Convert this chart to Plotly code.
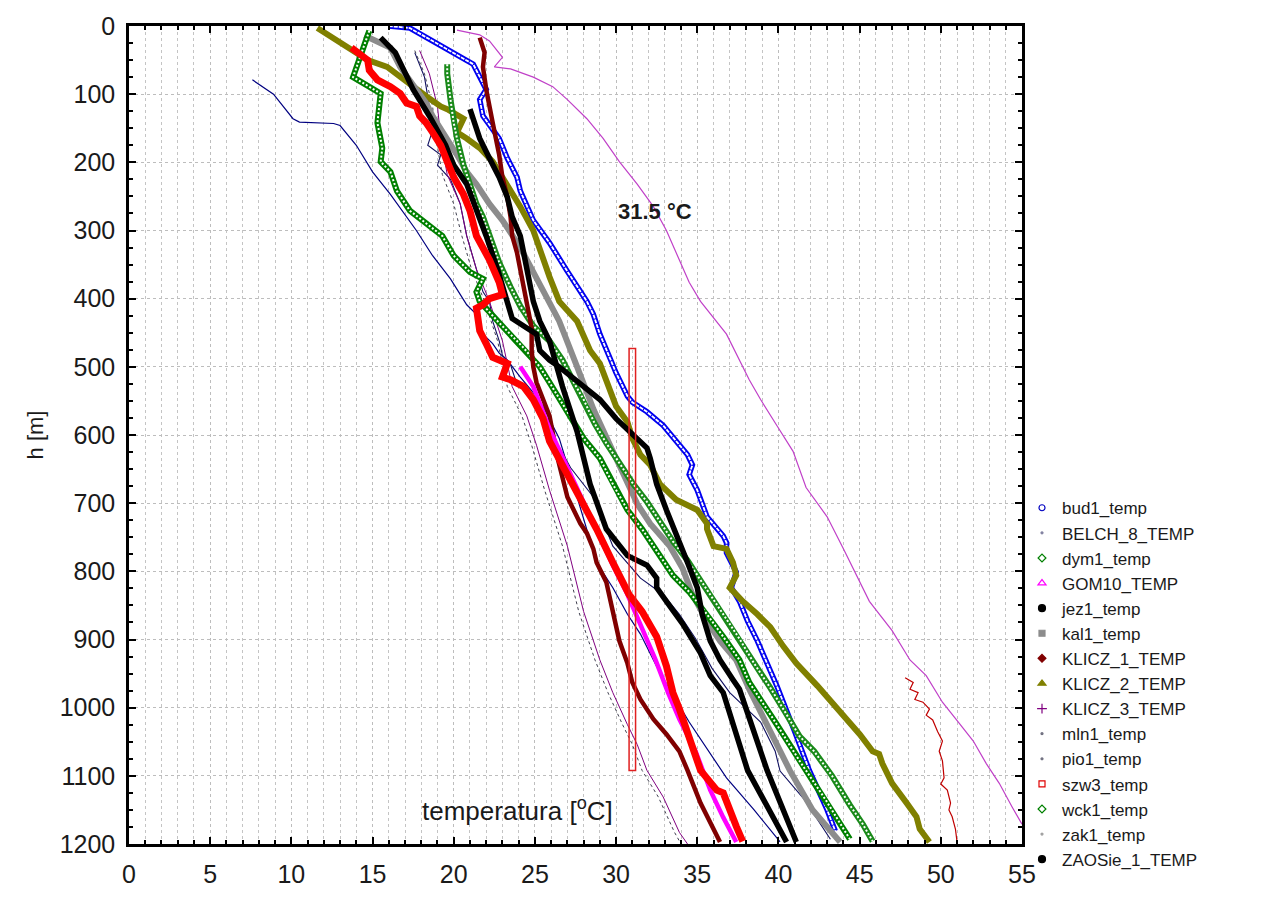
import plotly.graph_objects as go

# ---- temperature profiles: temperature [degC] against depth h [m] ----
bud1_t = [16.0, 17.3, 21.2, 22.0, 21.6, 21.8, 22.8, 23.3, 23.9, 24.1, 24.9, 25.9, 27.0, 28.2, 28.6, 29.0,
          29.6, 30.0, 30.7, 31.0, 31.9, 32.9, 34.4, 34.7, 34.5, 35.0, 35.6, 36.6, 36.8, 36.8, 37.4, 37.1,
          37.6, 38.1, 38.7, 39.3, 39.9, 41.0, 41.9, 43.0, 43.5]
bud1_h = [0, 3, 56, 93, 108, 132, 165, 194, 222, 242, 285, 318, 360, 404, 423, 452,
          486, 509, 543, 552, 566, 586, 629, 644, 658, 681, 720, 748, 758, 773, 801, 824,
          844, 873, 902, 935, 968, 1035, 1092, 1150, 1181]

belch8_t = [7.6, 8.9, 10.1, 10.5, 12.6, 13.0, 14.0, 15.0, 16.1, 17.1, 17.7, 18.7, 19.8, 20.8, 21.4, 21.8,
            22.4, 22.8, 23.3, 24.1, 24.9, 25.5, 26.5, 27.6, 28.8, 29.8, 30.7, 31.5, 32.7, 34.5, 36.8,
            38.5, 40.1]
belch8_h = [79, 100, 136, 141, 143, 146, 175, 214, 247, 280, 300, 337, 371, 409, 423, 452,
            466, 480, 490, 515, 538, 558, 605, 691, 787, 824, 863, 892, 949, 1021, 1103,
            1150, 1197]

dym1_t = [14.8, 13.8, 15.5, 15.3, 15.6, 15.5, 16.1, 16.5, 17.3, 18.3, 19.3, 20.0, 21.0, 21.8, 21.4, 21.6,
          22.7, 24.3, 25.3, 25.9, 27.0, 28.0, 29.0, 29.8, 30.7, 31.6, 32.7, 33.5, 34.5, 35.6, 36.6,
          37.6, 38.2, 39.8, 41.3, 42.9, 44.4]
dym1_h = [7, 75, 99, 142, 179, 199, 214, 242, 271, 290, 308, 337, 361, 371, 390, 404,
          433, 472, 500, 523, 566, 605, 634, 672, 710, 738, 777, 806, 830, 863, 896,
          930, 963, 1021, 1078, 1135, 1193]

gom10_t = [24.1, 24.9, 25.9, 27.0, 28.0, 29.0, 29.8, 30.7, 31.5, 32.4, 33.2, 33.9, 34.9, 35.8, 36.6, 37.4]
gom10_h = [500, 529, 591, 648, 698, 748, 791, 834, 877, 928, 978, 1017, 1064, 1121, 1161, 1197]

jez1_t = [15.5, 16.4, 17.5, 18.5, 19.5, 20.0, 20.8, 21.6, 22.0, 22.7, 23.3, 23.6, 24.5, 25.1, 25.3, 25.9,
          26.5, 28.0, 29.0, 30.0, 30.8, 31.9, 32.1, 32.5, 33.1, 33.7, 34.4, 35.0, 35.3, 35.8, 36.4,
          37.2, 37.6, 39.3, 41.1]
jez1_h = [17, 39, 93, 132, 175, 204, 232, 280, 308, 357, 404, 429, 443, 452, 476, 490,
          500, 529, 548, 576, 595, 619, 634, 672, 710, 748, 787, 824, 863, 902, 930,
          959, 973, 1092, 1197]

kal1_t = [14.5, 16.1, 16.7, 17.5, 18.3, 18.7, 19.6, 20.2, 20.8, 21.4, 22.2, 23.0, 24.1, 25.0, 25.9, 26.5,
          27.6, 28.6, 30.0, 31.3, 32.1, 33.3, 34.1, 34.7, 35.6, 36.4, 37.4, 38.2, 40.7, 42.1, 43.8]
kal1_h = [14, 32, 60, 85, 113, 132, 165, 189, 214, 232, 261, 285, 325, 364, 404, 433,
          500, 562, 634, 701, 730, 763, 796, 834, 873, 902, 930, 973, 1092, 1150, 1197]

klicz1_t = [21.6, 21.9, 21.8, 22.0, 22.4, 22.8, 23.0, 23.3, 23.5, 23.6, 23.9, 24.5, 24.8, 24.8, 24.9, 25.1,
            25.5, 25.9, 26.4, 27.0, 27.8, 28.2, 28.6, 28.8, 29.4, 29.8, 30.2, 30.7, 31.0, 31.5, 32.3,
            33.1, 33.9, 34.4, 35.2, 36.0, 36.4]
klicz1_h = [17, 39, 60, 93, 142, 189, 222, 251, 280, 308, 333, 404, 443, 476, 500, 523,
            548, 572, 634, 691, 730, 744, 767, 787, 816, 859, 902, 935, 963, 988, 1017,
            1039, 1064, 1092, 1140, 1178, 1197]

klicz2_t = [11.6, 13.2, 14.7, 15.9, 16.7, 17.5, 18.3, 19.2, 19.6, 20.6, 20.2, 20.8, 21.6, 22.4, 23.3, 24.1,
            24.9, 25.3, 25.9, 26.5, 27.6, 28.4, 29.0, 30.0, 30.7, 31.0, 31.5, 32.1, 32.7, 33.7, 35.0,
            35.6, 35.6, 36.0, 36.8, 37.2, 37.4, 37.0, 37.8, 38.7, 39.5, 40.3, 41.1, 42.4, 43.8, 45.0,
            45.8, 46.2, 46.4, 47.0, 47.9, 48.5, 48.7, 49.3]
klicz2_h = [3, 27, 50, 60, 75, 89, 103, 118, 122, 136, 156, 165, 179, 199, 232, 265,
            300, 328, 368, 404, 433, 476, 495, 558, 581, 605, 629, 644, 672, 695, 710,
            730, 738, 763, 767, 787, 806, 824, 844, 863, 882, 910, 935, 968, 1006, 1039,
            1064, 1068, 1082, 1111, 1140, 1160, 1178, 1197]

klicz3_t = [17.9, 18.5, 19.0, 19.2, 19.6, 20.4, 20.8, 21.4, 22.2, 23.0, 23.6, 24.5, 25.1, 25.9, 27.0, 28.0,
            29.0, 29.8, 30.7, 31.3, 31.9, 32.9, 33.9, 34.4]
klicz3_h = [36, 70, 118, 165, 218, 261, 308, 357, 404, 462, 529, 572, 615, 681, 763, 859,
            930, 978, 1025, 1054, 1092, 1131, 1183, 1200]

# dotted companion track running beside KLICZ_3
klicz3_pts_t = [17.6, 18.2, 18.7, 18.9, 19.3, 20.0, 20.5, 21.1, 21.9, 22.7, 23.3, 24.2, 24.8, 25.6, 26.7, 27.7,
                28.7, 29.5, 30.4, 31.0, 31.6, 32.6, 33.6, 34.0]
klicz3_pts_h = klicz3_h

mln1_t = [47.8, 48.3, 48.1, 48.6, 48.4, 48.9, 49.3, 49.1, 49.5, 49.8, 50.1, 49.9, 50.1, 50.2, 50.0, 50.4,
          50.6, 50.5, 50.7, 50.9, 51.0]
mln1_h = [956, 963, 973, 978, 988, 992, 1002, 1011, 1018, 1035, 1049, 1064, 1078, 1103, 1112, 1121,
          1140, 1150, 1160, 1178, 1197]

pio1_t = [17.6, 18.2, 18.5, 18.7, 18.4, 19.2, 19.0, 19.8, 20.4, 20.8, 21.4, 21.8, 22.2, 22.4, 22.8, 23.0,
          23.5, 23.8, 24.7, 25.9, 27.2, 28.6, 29.8, 31.5, 32.9, 33.9, 34.9, 35.9, 37.0, 38.9, 39.8,
          40.1, 41.6, 43.2]
pio1_h = [39, 75, 118, 153, 175, 189, 204, 225, 261, 308, 357, 390, 404, 433, 462, 483,
          497, 519, 540, 591, 648, 691, 763, 810, 834, 863, 899, 942, 978, 1021, 1064,
          1093, 1135, 1193]

szw3_t = [13.7, 14.7, 14.8, 15.3, 16.1, 16.7, 17.1, 17.7, 17.9, 18.3, 18.7, 19.2, 19.6, 20.0, 20.6, 21.0,
          21.4, 22.2, 22.8, 23.0, 22.2, 21.8, 21.4, 21.6, 22.0, 22.4, 23.3, 23.0, 23.5, 24.3, 24.9,
          25.5, 25.9, 26.8, 27.8, 28.8, 29.8, 30.8, 31.6, 32.5, 33.1, 33.5, 33.9, 35.2, 36.2, 36.6,
          37.4, 37.8]
szw3_h = [32, 50, 65, 79, 89, 99, 113, 118, 132, 142, 156, 175, 199, 222, 247, 271,
          308, 343, 376, 394, 400, 409, 414, 447, 466, 486, 495, 515, 519, 529, 548,
          576, 609, 648, 691, 738, 787, 834, 859, 896, 939, 978, 1002, 1092, 1121, 1125,
          1174, 1196]

wck1_t = [19.6, 19.6, 19.8, 20.0, 20.2, 20.6, 21.0, 21.4, 21.8, 22.2, 22.8, 23.5, 24.1, 24.9, 25.9, 26.7,
          27.3, 28.0, 28.7, 29.4, 30.2, 31.0, 31.9, 32.7, 33.5, 34.4, 35.2, 36.0, 36.8, 37.6, 38.5,
          39.5, 40.4, 41.3, 42.2, 43.3, 44.4, 45.2, 45.8]
wck1_h = [56, 70, 108, 142, 165, 204, 232, 261, 280, 308, 347, 383, 411, 440, 462, 490,
          519, 548, 584, 612, 641, 670, 698, 727, 756, 784, 813, 842, 870, 899, 935,
          971, 1006, 1042, 1064, 1100, 1143, 1171, 1196]

zak1_t = [20.2, 21.6, 22.2, 23.0, 22.5, 23.5, 24.9, 26.1, 27.0, 28.2, 29.2, 30.2, 31.3, 32.3, 33.1, 33.7,
          34.5, 35.2, 36.8, 38.2, 38.9, 39.9, 40.9, 41.7, 43.0, 44.0, 44.8, 45.6, 47.0, 48.1, 49.1,
          50.1, 51.2, 52.0, 52.8, 53.6, 54.4, 55.0]
zak1_h = [6, 13, 22, 46, 60, 63, 75, 89, 108, 136, 165, 199, 232, 265, 300, 333,
          376, 404, 452, 519, 548, 586, 624, 677, 720, 767, 806, 844, 887, 930, 953,
          992, 1025, 1049, 1082, 1111, 1146, 1171]

zaosie1_t = [21.0, 21.6, 22.2, 22.8, 23.3, 23.6, 24.1, 24.5, 24.9, 25.3, 25.9, 26.7, 27.6, 28.4, 29.4, 30.7,
             31.9, 32.5, 32.5, 33.1, 34.1, 35.2, 35.8, 36.6, 38.1, 40.5]
zaosie1_h = [122, 165, 194, 222, 251, 280, 308, 361, 404, 433, 462, 529, 595, 672, 738, 777,
             791, 810, 824, 844, 877, 920, 953, 978, 1092, 1197]

# highlighted 31.5 degC interval
band_t = [30.8, 31.2]
band_h = [473, 1092]

FONT = "Liberation Sans, Arial, sans-serif"

fig = go.Figure()


def profile(t, h, color, width, dash=None):
    fig.add_trace(go.Scatter(x=t, y=h, mode="lines", showlegend=False, hoverinfo="skip",
                             line=dict(color=color, width=width, dash=dash)))


def hollow(t, h, color, width, inner, dash):
    # outlined line: coloured stroke with a light broken core
    profile(t, h, color, width)
    profile(t, h, "white", inner, dash)


# thin profiles drawn first
profile(zak1_t, zak1_h, "#c040c8", 1.2)
profile(mln1_t, mln1_h, "#c00000", 1.2)
profile(belch8_t, belch8_h, "#000080", 1.2)
profile(pio1_t, pio1_h, "#101060", 1.1)
profile(klicz3_pts_t, klicz3_pts_h, "#404050", 1.0, "dot")
profile(klicz3_t, klicz3_h, "#800080", 1.0)
# thick profiles
hollow(bud1_t, bud1_h, "#0000f0", 5.5, 1.8, "4px,1px")
profile(klicz2_t, klicz2_h, "#808000", 6)
profile(kal1_t, kal1_h, "#8c8c8c", 6)
hollow(dym1_t, dym1_h, "#008000", 6, 2.0, "2px,2px")
hollow(wck1_t, wck1_h, "#1a8a1a", 6, 2.0, "2px,2px")
profile(klicz1_t, klicz1_h, "#800000", 4.5)
profile(jez1_t, jez1_h, "black", 5.5)
profile(zaosie1_t, zaosie1_h, "black", 5.5)
profile(gom10_t, gom10_h, "#ff00ff", 4.5)
profile(szw3_t, szw3_h, "#ff0000", 7)

# legend entries (marker symbols only)
legend_items = [
    ("bud1_temp", "circle-open", "#0000c0", 6),
    ("BELCH_8_TEMP", "circle", "#8080a0", 2),
    ("dym1_temp", "diamond-open", "#008000", 6),
    ("GOM10_TEMP", "triangle-up-open", "#ff00ff", 7),
    ("jez1_temp", "circle", "black", 7),
    ("kal1_temp", "square", "#8c8c8c", 6),
    ("KLICZ_1_TEMP", "diamond", "#800000", 6),
    ("KLICZ_2_TEMP", "triangle-up", "#808000", 7),
    ("KLICZ_3_TEMP", "cross-thin", "#800080", 7),
    ("mln1_temp", "circle", "#707080", 2),
    ("pio1_temp", "circle", "#707080", 2),
    ("szw3_temp", "square-open", "#e00000", 6),
    ("wck1_temp", "diamond-open", "#008000", 6),
    ("zak1_temp", "circle", "#a0a0a0", 2),
    ("ZAOSie_1_TEMP", "circle", "black", 7),
]
for name, sym, col, size in legend_items:
    fig.add_trace(go.Scatter(x=[None], y=[None], mode="markers", name=name,
                             marker=dict(symbol=sym, color=col, size=size,
                                         line=dict(color=col, width=1.2))))

fig.add_shape(type="rect", xref="x", yref="y", x0=band_t[0], x1=band_t[1], y0=band_h[0], y1=band_h[1],
              line=dict(color="#e02020", width=1.5), fillcolor="rgba(0,0,0,0)")

fig.add_annotation(x=32.4, y=272, xref="x", yref="y", text="<b>31.5 °C</b>", showarrow=False,
                   font=dict(family=FONT, size=22, color="#1a1a1a"))
fig.add_annotation(x=23.95, y=1150, xref="x", yref="y", text="temperatura [<sup>o</sup>C]",
                   showarrow=False, font=dict(family=FONT, size=26, color="#1a1a1a"))

axis_common = dict(
    showline=True, linecolor="black", linewidth=2.5, mirror="allticks",
    ticks="inside", tickcolor="black", tickwidth=1.5, ticklen=7,
    showgrid=True, gridcolor="#bdbdbd", griddash="dot", gridwidth=1,
    zeroline=False, tickfont=dict(family=FONT, size=25, color="#1a1a1a"),
)

fig.update_xaxes(range=[0, 55], tick0=0, dtick=5, ticklabelstandoff=6,
                 minor=dict(dtick=1, ticks="inside", ticklen=4, tickcolor="black",
                            showgrid=True, gridcolor="#c4c4c4", griddash="dot", gridwidth=1),
                 **axis_common)
fig.update_yaxes(range=[1200, 0], tick0=0, dtick=100, ticklabelstandoff=6,
                 minor=dict(dtick=25, ticks="inside", ticklen=4, tickcolor="black", showgrid=False),
                 title=dict(text="h [m]", font=dict(family=FONT, size=22, color="#1a1a1a"), standoff=10),
                 **axis_common)

fig.update_layout(
    width=1273, height=900,
    margin=dict(l=129, r=251, t=18, b=45),
    paper_bgcolor="white", plot_bgcolor="white",
    font=dict(family=FONT, color="#1a1a1a"),
    legend=dict(x=1.0, y=0.4325, xanchor="left", yanchor="top",
                font=dict(family=FONT, size=17, color="#1a1a1a"),
                bgcolor="rgba(0,0,0,0)", tracegroupgap=0, itemwidth=30),
)

fig.write_html("out.html")
